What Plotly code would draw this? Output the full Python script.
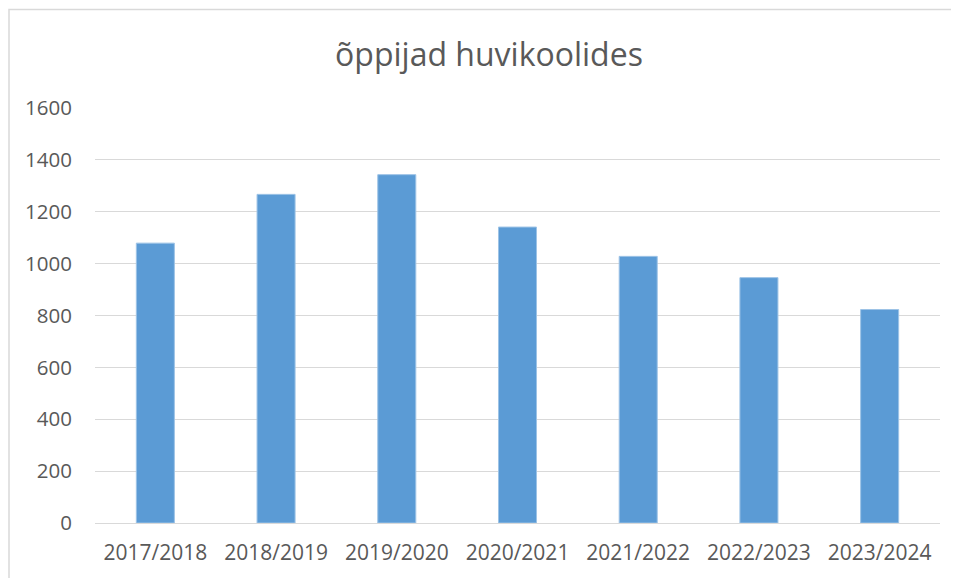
import plotly.graph_objects as go

categories = ["2017/2018", "2018/2019", "2019/2020", "2020/2021", "2021/2022", "2022/2023", "2023/2024"]
values = [1079, 1267, 1343, 1141, 1028, 946, 823]
y_ticks = [0, 200, 400, 600, 800, 1000, 1200, 1400, 1600]

OFF = 8  # default page body margin
W, H = 959 - OFF, 578 - OFF
L, R, T, B = 95 - OFF, 959 - 940, 108 - OFF, 578 - 523
pw, ph = W - L - R, H - T - B

fig = go.Figure(go.Bar(
    x=categories, y=values,
    marker=dict(color="#5B9BD5", line=dict(color="#9DC3E6", width=1)),
))

def px2x(p):  # page pixel -> x paper coordinate
    return (p - OFF - L) / pw

def px2y(p):  # page pixel -> y paper coordinate
    return (H + OFF - B - p) / ph

FONT = "Open Sans, Lato, sans-serif"
fig.update_layout(
    width=W, height=H,
    margin=dict(l=L, r=R, t=T, b=B),
    paper_bgcolor="white", plot_bgcolor="white",
    bargap=0.685,
    showlegend=False,
    font=dict(family=FONT, color="#595959"),
    title=dict(text="õppijad huvikoolides", x=(489 - OFF) / W, xanchor="center",
               y=1 - (55 - OFF) / H, yanchor="middle",
               font=dict(size=32, color="#595959", family=FONT)),
    xaxis=dict(showgrid=False, showline=True, linecolor="#D9D9D9", linewidth=1.3,
               tickfont=dict(size=21, color="#595959"), ticks="", ticklabelstandoff=11,
               fixedrange=True),
    yaxis=dict(range=[0, 1600], tickvals=y_ticks, showgrid=True, gridcolor="#D9D9D9",
               gridwidth=1.3, zeroline=False, showline=False,
               tickfont=dict(size=20.5, color="#595959"), ticks="", ticklabelstandoff=22),
    shapes=[dict(type="rect", xref="paper", yref="paper",
                 x0=px2x(9), x1=px2x(985), y0=px2y(600), y1=px2y(9.5),
                 line=dict(color="#D9D9D9", width=1.5), fillcolor="rgba(0,0,0,0)", layer="below")],
)

fig.write_html("out.html")
